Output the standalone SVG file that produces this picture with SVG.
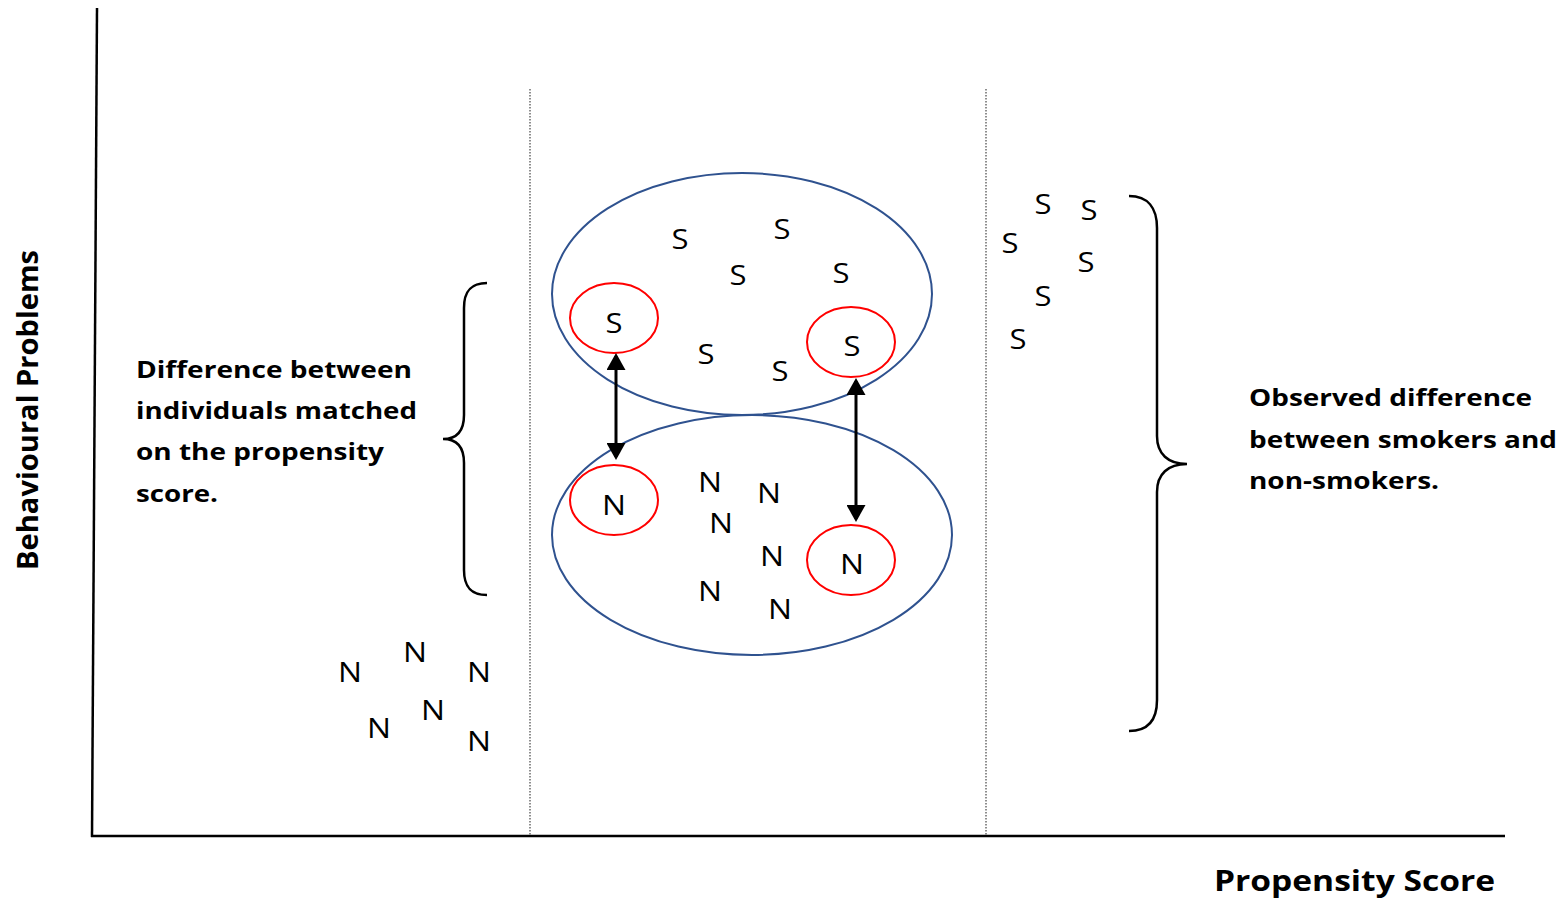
<svg xmlns="http://www.w3.org/2000/svg" width="1567" height="898" viewBox="0 0 1567 898">
<style>
.ltr{font-family:"Open Sans","Liberation Sans",sans-serif;font-size:28px;fill:#000;text-anchor:middle}
.lbl{font-family:"Open Sans","Liberation Sans",sans-serif;font-size:23px;font-weight:bold;fill:#000}
.ax{font-family:"Open Sans","Liberation Sans",sans-serif;font-size:29px;font-weight:bold;fill:#000}
.grp{fill:none;stroke:#2F528F;stroke-width:2}
.match{fill:none;stroke:#FF0000;stroke-width:2}
.brace{fill:none;stroke:#000;stroke-width:2.5}
.dot{stroke:#444;stroke-width:1.2;stroke-dasharray:1.5 1.5}
.arrow{stroke:#000;stroke-width:3}
</style>
<defs>
<marker id="ah" viewBox="0 0 17 19" refX="14" refY="9.5" markerWidth="17" markerHeight="19" markerUnits="userSpaceOnUse" orient="auto-start-reverse">
<path d="M0,0 L17,9.5 L0,19 z" fill="#000"/>
</marker>
</defs>
<rect width="1567" height="898" fill="#fff"/>
<g id="axes">
<line x1="97" y1="8" x2="92" y2="837" stroke="#000" stroke-width="2.5"/>
<line x1="91" y1="836" x2="1505" y2="836" stroke="#000" stroke-width="2.5"/>
<line class="dot" x1="530" y1="89" x2="530" y2="835"/>
<line class="dot" x1="986" y1="89" x2="986" y2="835"/>
<text class="ax" x="1214" y="891" textLength="281" lengthAdjust="spacingAndGlyphs">Propensity Score</text>
<text class="ax" transform="translate(38,410) rotate(-90)" text-anchor="middle" textLength="320" lengthAdjust="spacingAndGlyphs">Behavioural Problems</text>
</g>
<g id="smokers-group">
<ellipse class="grp" cx="742" cy="294" rx="190" ry="121"/>
<text class="ltr" x="680" y="249" textLength="17" lengthAdjust="spacingAndGlyphs">S</text>
<text class="ltr" x="782" y="239" textLength="17" lengthAdjust="spacingAndGlyphs">S</text>
<text class="ltr" x="738" y="285" textLength="17" lengthAdjust="spacingAndGlyphs">S</text>
<text class="ltr" x="841" y="283" textLength="17" lengthAdjust="spacingAndGlyphs">S</text>
<text class="ltr" x="706" y="364" textLength="17" lengthAdjust="spacingAndGlyphs">S</text>
<text class="ltr" x="780" y="381" textLength="17" lengthAdjust="spacingAndGlyphs">S</text>
</g>
<g id="nonsmokers-group">
<ellipse class="grp" cx="752" cy="535" rx="200" ry="120"/>
<text class="ltr" x="710" y="492" textLength="24" lengthAdjust="spacingAndGlyphs">N</text>
<text class="ltr" x="769" y="503" textLength="24" lengthAdjust="spacingAndGlyphs">N</text>
<text class="ltr" x="721" y="533" textLength="24" lengthAdjust="spacingAndGlyphs">N</text>
<text class="ltr" x="772" y="566" textLength="24" lengthAdjust="spacingAndGlyphs">N</text>
<text class="ltr" x="710" y="601" textLength="24" lengthAdjust="spacingAndGlyphs">N</text>
<text class="ltr" x="780" y="619" textLength="24" lengthAdjust="spacingAndGlyphs">N</text>
</g>
<g id="match-s1">
<ellipse class="match" cx="614" cy="318" rx="44" ry="35"/>
<text class="ltr" x="614" y="333" textLength="17" lengthAdjust="spacingAndGlyphs">S</text>
</g>
<g id="match-s2">
<ellipse class="match" cx="851" cy="342" rx="44" ry="35"/>
<text class="ltr" x="852" y="356" textLength="17" lengthAdjust="spacingAndGlyphs">S</text>
</g>
<g id="match-n1">
<ellipse class="match" cx="614" cy="500" rx="44" ry="35"/>
<text class="ltr" x="614" y="515" textLength="24" lengthAdjust="spacingAndGlyphs">N</text>
</g>
<g id="match-n2">
<ellipse class="match" cx="851" cy="560" rx="44" ry="35"/>
<text class="ltr" x="852" y="574" textLength="24" lengthAdjust="spacingAndGlyphs">N</text>
</g>
<g id="low-n">
<text class="ltr" x="350" y="682" textLength="24" lengthAdjust="spacingAndGlyphs">N</text>
<text class="ltr" x="415" y="662" textLength="24" lengthAdjust="spacingAndGlyphs">N</text>
<text class="ltr" x="479" y="682" textLength="24" lengthAdjust="spacingAndGlyphs">N</text>
<text class="ltr" x="433" y="720" textLength="24" lengthAdjust="spacingAndGlyphs">N</text>
<text class="ltr" x="379" y="738" textLength="24" lengthAdjust="spacingAndGlyphs">N</text>
<text class="ltr" x="479" y="751" textLength="24" lengthAdjust="spacingAndGlyphs">N</text>
</g>
<g id="high-s">
<text class="ltr" x="1043" y="214" textLength="17" lengthAdjust="spacingAndGlyphs">S</text>
<text class="ltr" x="1089" y="220" textLength="17" lengthAdjust="spacingAndGlyphs">S</text>
<text class="ltr" x="1010" y="253" textLength="17" lengthAdjust="spacingAndGlyphs">S</text>
<text class="ltr" x="1086" y="272" textLength="17" lengthAdjust="spacingAndGlyphs">S</text>
<text class="ltr" x="1043" y="306" textLength="17" lengthAdjust="spacingAndGlyphs">S</text>
<text class="ltr" x="1018" y="349" textLength="17" lengthAdjust="spacingAndGlyphs">S</text>
</g>
<g id="left-brace">
<path class="brace" d="M487,283 C470,283 464,292 464,308 L464,415 C464,430 458,439 443,439 C458,439 464,448 464,463 L464,570 C464,586 470,595 487,595"/>
<text class="lbl" x="136" y="378" textLength="276" lengthAdjust="spacingAndGlyphs">Difference between</text>
<text class="lbl" x="136" y="419" textLength="281" lengthAdjust="spacingAndGlyphs">individuals matched</text>
<text class="lbl" x="136" y="460" textLength="248" lengthAdjust="spacingAndGlyphs">on the propensity</text>
<text class="lbl" x="136" y="502" textLength="82" lengthAdjust="spacingAndGlyphs">score.</text>
</g>
<g id="right-brace">
<path class="brace" d="M1129,196 C1148,196 1157,208 1157,228 L1157,436 C1157,454 1168,464 1187,464 C1168,464 1157,474 1157,492 L1157,700 C1157,720 1148,731 1129,731"/>
<text class="lbl" x="1249" y="406" textLength="283" lengthAdjust="spacingAndGlyphs">Observed difference</text>
<text class="lbl" x="1249" y="448" textLength="308" lengthAdjust="spacingAndGlyphs">between smokers and</text>
<text class="lbl" x="1249" y="489" textLength="190" lengthAdjust="spacingAndGlyphs">non-smokers.</text>
</g>
<g id="connectors">
<line class="arrow" x1="616" y1="356" x2="616" y2="457" marker-start="url(#ah)" marker-end="url(#ah)"/>
<line class="arrow" x1="856" y1="381" x2="856" y2="519" marker-start="url(#ah)" marker-end="url(#ah)"/>
</g>
</svg>
